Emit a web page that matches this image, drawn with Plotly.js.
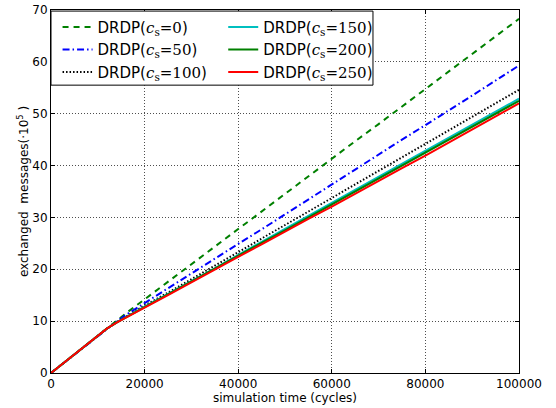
<!DOCTYPE html>
<html><head><meta charset="utf-8">
<script src="https://cdn.plot.ly/plotly-3.0.1.min.js"></script>
<style>html,body{margin:0;padding:0;background:#fff}#chart{width:556px;height:408px}</style>
</head><body><div id="chart"></div>
<script>
const cycles = [0,5000,10000,12000,14000,16000,20000,25000,30000,35000,40000,45000,50000,55000,60000,65000,70000,75000,80000,85000,90000,95000,100000];
const cs0   = [0,3.6,7.2,8.7,10.1,11.5,14.2,17.6,21.0,24.4,27.8,31.1,34.5,37.9,41.3,44.7,48.0,51.4,54.8,58.1,61.5,64.9,68.3];
const cs50  = [0,3.6,7.2,8.6,9.9,11.2,13.5,16.3,19.1,22.0,24.9,27.7,30.6,33.5,36.4,39.2,42.1,45.0,47.8,50.6,53.5,56.4,59.3];
const cs100 = [0,3.6,7.2,8.6,9.8,10.9,13.0,15.5,18.1,20.7,23.3,25.9,28.5,31.2,33.8,36.4,39.0,41.6,44.2,46.8,49.4,52.0,54.6];
const cs150 = [0,3.6,7.2,8.6,9.7,10.8,12.8,15.2,17.7,20.2,22.8,25.3,27.8,30.3,32.8,35.3,37.8,40.3,42.8,45.3,47.9,50.4,52.9];
const cs200 = [0,3.6,7.2,8.6,9.7,10.7,12.7,15.1,17.6,20.1,22.6,25.1,27.5,30.0,32.5,35.0,37.5,39.9,42.4,44.9,47.4,49.9,52.5];
const cs250 = [0,3.6,7.2,8.6,9.7,10.7,12.6,15.0,17.5,19.9,22.4,24.8,27.3,29.7,32.1,34.6,37.0,39.5,41.9,44.4,46.9,49.4,52.0];
const seriesLabels = ['0','50','100','150','200','250'];
const xTicks = [0,20000,40000,60000,80000,100000];
const yTicks = [0,10,20,30,40,50,60,70];

const vals = [cs0, cs50, cs100, cs150, cs200, cs250];
const colors = ['#008000','#0000ff','#000000','#00bfbf','#008000','#ff0000'];
const dashes = ['6px,5px','7px,3px,1.5px,3px','1.5px,2px','solid','solid','solid'];
const legendCol = ['legend','legend','legend','legend2','legend2','legend2'];
const mathFont = "'DejaVu Serif'";
const traces = vals.map((v,i)=>({
  x: cycles, y: v, type:'scatter', mode:'lines',
  name: 'DRDP(<span style="font-family:'+mathFont+'"><i>c</i><sub>s</sub>=' + seriesLabels[i] + '</span>)',
  line: {color: colors[i], width: 2, dash: dashes[i]},
  legend: legendCol[i]
}));

const axisCommon = {
  showline:true, linecolor:'#000', linewidth:1, mirror:'ticks',
  ticks:'inside', ticklen:4, tickcolor:'#000',
  showgrid:true, gridcolor:'#222', griddash:'1px,2px', gridwidth:0.8,
  zeroline:false,
  tickfont:{family:'DejaVu Sans', size:12, color:'#000'}
};
const legendCommon = {
  orientation:'v', xanchor:'left', y:0.998, yanchor:'top',
  bgcolor:'rgba(0,0,0,0)', borderwidth:0,
  font:{family:'DejaVu Sans', size:15, color:'#000'},
  tracegroupgap:0
};
const layout = {
  width:556, height:408,
  margin:{l:51, r:37, t:10, b:35},
  paper_bgcolor:'#fff', plot_bgcolor:'#fff',
  font:{family:'DejaVu Sans', color:'#000'},
  xaxis: Object.assign({}, axisCommon, {
    range:[0,100000], tickvals:xTicks, ticktext:xTicks.map(String),
    title:{text:'simulation time (cycles)', font:{size:12}, standoff:2}
  }),
  yaxis: Object.assign({}, axisCommon, {
    range:[0,70], tickvals:yTicks,
    title:{text:'exchanged  messages(·10<sup>5</sup> )', font:{size:12}, standoff:1}
  }),
  showlegend:true,
  legend: Object.assign({}, legendCommon, {x:0.014}),
  legend2: Object.assign({}, legendCommon, {x:0.368}),
  shapes:[{type:'rect', xref:'paper', yref:'paper', x0:0, x1:0.688, y0:0.793, y1:0.997,
    fillcolor:'#fff', line:{color:'#000', width:1}, layer:'above'}]
};
Plotly.newPlot('chart', traces, layout, {staticPlot:true, displayModeBar:false});
</script>
</body></html>
